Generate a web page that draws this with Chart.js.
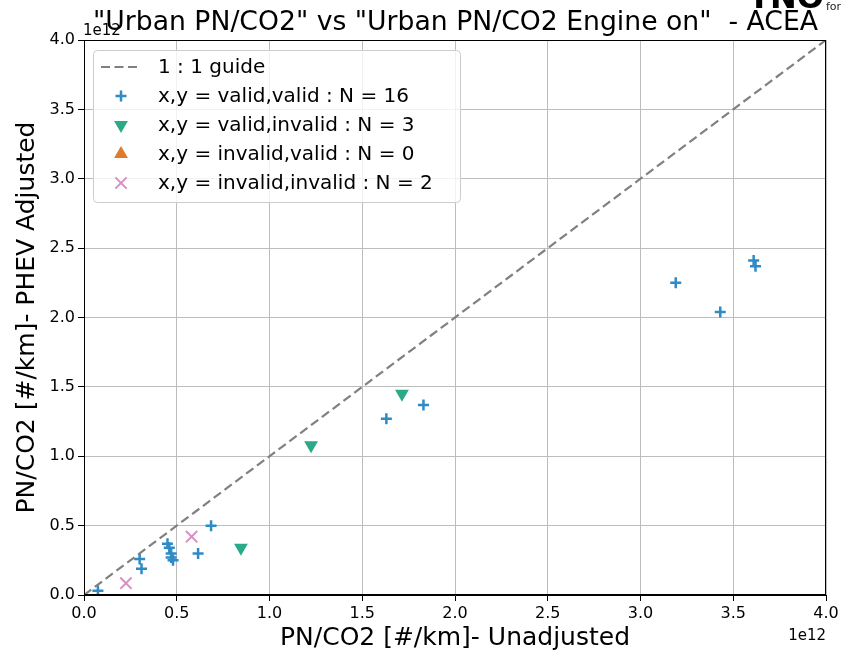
<!DOCTYPE html>
<html>
<head>
<meta charset="utf-8">
<script src="https://cdn.jsdelivr.net/npm/chart.js@4/dist/chart.umd.min.js"></script>
<style>
	html, body { margin: 0; padding: 0; background: #fff; }
	canvas { display: block; }
</style>
</head>
<body>
<canvas id="chart" width="848" height="656"></canvas>
<script>
// values are in units of 1e12 #/km
const EXP = 1e12;

const guideX = [0, 4];
const guideY = [0, 4];

const validValidX = [0.075, 0.30, 0.31, 0.45, 0.46, 0.47, 0.47, 0.48, 0.615, 0.685, 1.63, 1.83, 3.19, 3.43, 3.61, 3.62];
const validValidY = [0.03, 0.26, 0.19, 0.37, 0.34, 0.30, 0.27, 0.25, 0.30, 0.50, 1.27, 1.37, 2.25, 2.04, 2.41, 2.37];

const validInvalidX = [0.846, 1.224, 1.714];
const validInvalidY = [0.34, 1.08, 1.45];

const invalidValidX = [];
const invalidValidY = [];

const invalidInvalidX = [0.226, 0.58];
const invalidInvalidY = [0.085, 0.42];

const titleText = '"Urban PN/CO2" vs "Urban PN/CO2 Engine on"  - ACEA';
const xTitle = 'PN/CO2 [#/km]- Unadjusted';
const yTitle = 'PN/CO2 [#/km]- PHEV Adjusted';
const FONT = "'DejaVu Sans', sans-serif";

function toPoints(xs, ys) {
	return xs.map((x, i) => ({ x: x * EXP, y: ys[i] * EXP }));
}

// matplotlib style extras: title, exponent labels, frame, logo and legend box
const mplExtras = {
	id: 'mplExtras',
	afterDraw(chart) {
		const { ctx, chartArea: area } = chart;
		ctx.save();

		// frame on all four sides
		ctx.strokeStyle = '#000';
		ctx.lineWidth = 1;
		ctx.strokeRect(area.left + 0.5, area.top + 0.5, area.right - area.left - 1, area.bottom - area.top - 1);

		// exponent labels
		ctx.fillStyle = '#000';
		ctx.font = `15px ${FONT}`;
		ctx.textBaseline = 'alphabetic';
		ctx.textAlign = 'left';
		ctx.fillText('1e12', area.left - 1, 35);
		ctx.textAlign = 'right';
		ctx.fillText('1e12', area.right, 640);

		// cut off logo in the corner
		ctx.font = `bold 32px ${FONT}`;
		ctx.textAlign = 'right';
		ctx.fillText('TNO', 824, 8);
		ctx.font = `11px ${FONT}`;
		ctx.textAlign = 'left';
		ctx.fillStyle = '#222';
		ctx.fillText('for', 826, 10);

		// title, squeezed like the reference
		ctx.fillStyle = '#000';
		ctx.font = `26px ${FONT}`;
		const w = ctx.measureText(titleText).width;
		const targetW = 725;
		ctx.save();
		ctx.translate(93, 30);
		ctx.scale(targetW / w, 1);
		ctx.fillText(titleText, 0, 0);
		ctx.restore();

		// legend
		const box = { x: 93, y: 50, w: 367, h: 152 };
		ctx.beginPath();
		ctx.roundRect(box.x + 0.5, box.y + 0.5, box.w, box.h, 4);
		ctx.fillStyle = 'rgba(255,255,255,0.8)';
		ctx.fill();
		ctx.strokeStyle = '#cccccc';
		ctx.lineWidth = 1;
		ctx.stroke();

		ctx.font = `20px ${FONT}`;
		ctx.textBaseline = 'middle';
		ctx.textAlign = 'left';
		chart.data.datasets.forEach((ds, i) => {
			const y = 67 + i * 29;
			if (ds.showLine) {
				ctx.beginPath();
				ctx.setLineDash(ds.borderDash);
				ctx.strokeStyle = ds.borderColor;
				ctx.lineWidth = ds.borderWidth;
				ctx.moveTo(101, y);
				ctx.lineTo(140, y);
				ctx.stroke();
				ctx.setLineDash([]);
			}
			else {
				ctx.fillStyle = ds.backgroundColor;
				ctx.strokeStyle = ds.borderColor;
				ctx.lineWidth = ds.borderWidth;
				Chart.helpers.drawPoint(ctx, {
					pointStyle: ds.pointStyle,
					radius: ds.pointRadius,
					rotation: ds.rotation || 0,
					borderWidth: ds.borderWidth
				}, 121, y);
			}
			ctx.fillStyle = '#000';
			ctx.fillText(ds.label, 158, y + 1);
		});

		ctx.restore();
	}
};

const blue = '#2f8bc6';
const green = '#2aaa88';
const orange = '#e07a2c';
const pink = '#da8fc4';

const axisStyle = {
	ticks: {
		stepSize: 0.5 * EXP,
		color: '#000',
		font: { family: FONT, size: 16 },
		padding: 3,
		maxRotation: 0,
		callback: v => (v / EXP).toFixed(1)
	},
	grid: {
		color: '#bdbdbd',
		tickColor: '#000',
		tickLength: 6,
		lineWidth: 1
	},
	border: { color: '#000', width: 1 }
};

new Chart(document.getElementById('chart').getContext('2d'), {
	type: 'scatter',
	data: {
		datasets: [
			{
				label: '1 : 1 guide',
				data: toPoints(guideX, guideY),
				showLine: true,
				borderColor: '#808080',
				backgroundColor: '#808080',
				borderWidth: 2.2,
				borderDash: [9, 4.5],
				pointRadius: 0
			},
			{
				label: 'x,y = valid,valid : N = ' + validValidX.length,
				data: toPoints(validValidX, validValidY),
				pointStyle: 'cross',
				pointRadius: 5.5,
				borderWidth: 2.5,
				borderColor: blue,
				backgroundColor: blue
			},
			{
				label: 'x,y = valid,invalid : N = ' + validInvalidX.length,
				data: toPoints(validInvalidX, validInvalidY),
				pointStyle: 'triangle',
				rotation: 180,
				pointRadius: 8,
				borderWidth: 0,
				borderColor: green,
				backgroundColor: green
			},
			{
				label: 'x,y = invalid,valid : N = ' + invalidValidX.length,
				data: toPoints(invalidValidX, invalidValidY),
				pointStyle: 'triangle',
				pointRadius: 8,
				borderWidth: 0,
				borderColor: orange,
				backgroundColor: orange
			},
			{
				label: 'x,y = invalid,invalid : N = ' + invalidInvalidX.length,
				data: toPoints(invalidInvalidX, invalidInvalidY),
				pointStyle: 'crossRot',
				pointRadius: 8,
				borderWidth: 2,
				borderColor: pink,
				backgroundColor: pink
			}
		]
	},
	options: {
		responsive: false,
		animation: false,
		devicePixelRatio: 1,
		layout: {
			padding: { top: 40, right: 22, left: 0, bottom: 0 }
		},
		scales: {
			x: {
				type: 'linear',
				min: 0,
				max: 4 * EXP,
				afterFit: scale => { scale.height = 61; },
				...axisStyle,
				title: {
					display: true,
					text: xTitle,
					color: '#000',
					font: { family: FONT, size: 25 },
					padding: { top: 0, bottom: 3 }
				}
			},
			y: {
				type: 'linear',
				min: 0,
				max: 4 * EXP,
				afterFit: scale => { scale.width = 84; },
				...axisStyle,
				title: {
					display: true,
					text: yTitle,
					color: '#000',
					font: { family: FONT, size: 25 },
					padding: { top: 12, bottom: 0 }
				}
			}
		},
		plugins: {
			legend: { display: false },
			title: { display: false },
			tooltip: { enabled: false }
		}
	},
	plugins: [mplExtras]
});
</script>
</body>
</html>
